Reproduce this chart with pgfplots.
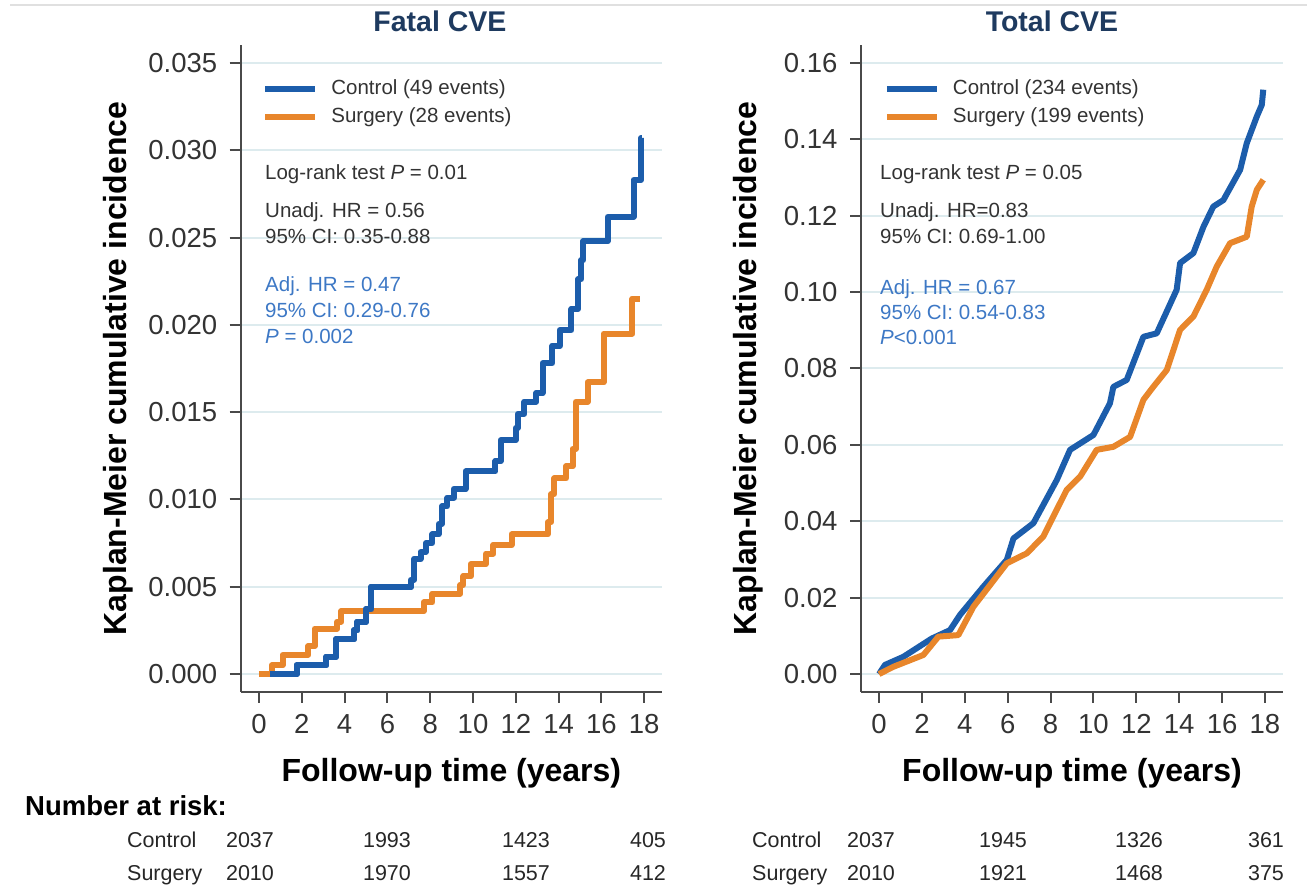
\documentclass[border=0pt]{standalone}
\usepackage{fontspec}
\setmainfont{Liberation Sans}
\usepackage{pgfplots}
\pgfplotsset{compat=1.18}
\definecolor{kmblue}{HTML}{1C5DAB}
\definecolor{kmorange}{HTML}{E8862B}
\definecolor{annblue}{HTML}{3D78C5}
\definecolor{titlecol}{HTML}{1E3A5F}
\definecolor{textdark}{HTML}{333333}
\definecolor{axisgray}{HTML}{4A4A4A}
\definecolor{gridcol}{HTML}{DDEBEE}
\pgfplotsset{kmaxis/.style={
  scale only axis, clip=false,
  axis x line*=bottom, axis y line*=left,
  axis line style={-, draw=axisgray, line width=2pt},
  tick align=outside, major tick length=11pt,
  every tick/.style={draw=axisgray, line width=2pt},
  xtick={0,2,4,6,8,10,12,14,16,18},
  ymajorgrids, major grid style={draw=gridcol, line width=2pt},
  tick label style={font=\fontsize{27.5}{30}\selectfont, text=textdark},
  xticklabel style={yshift=-8pt},
  /pgf/number format/assume math mode=true,
  scaled y ticks=false,
  label style={font=\bfseries\fontsize{32}{36}\selectfont, text=black},
  title style={font=\bfseries\fontsize{28.5}{32}\selectfont, text=titlecol, anchor=center},
  legend cell align=left,
  legend image code/.code={\draw[##1,line width=6pt] (0pt,0pt) -- (50pt,0pt); \path[draw=none] (0pt,0pt) -- (66pt,0pt);},
  legend style={draw=none, fill=none, inner sep=0pt, row sep=8pt,
    font=\fontsize{20.5}{24}\selectfont, text=textdark,
    nodes={inner sep=0pt, text height=15pt, text depth=5pt}},
  every axis plot/.append style={line width=6pt, line join=round},
}}
\begin{document}
\begin{tikzpicture}
\useasboundingbox (0pt,0pt) rectangle (1307pt,886pt);
\draw[black!12, line width=2pt] (10pt,881pt) -- (1307pt,881pt);

% ---------------- Fatal CVE ----------------
\begin{axis}[kmaxis,
  at={(240.7pt,194pt)}, anchor=south west, width=421.3pt, height=647pt,
  xmin=-0.855, xmax=18.83, ymin=-0.00103, ymax=0.03603,
  ytick={0,0.005,0.01,0.015,0.02,0.025,0.03,0.035},
  yticklabel style={xshift=-9pt, /pgf/number format/.cd, fixed, fixed zerofill, precision=3},
  title={Fatal CVE}, title style={at={(axis description cs:0.473,1.028)}},
  xlabel={Follow-up time (years)}, xlabel style={at={(axis description cs:0.5,-0.125)}, anchor=center},
  ylabel={Kaplan-Meier cumulative incidence}, ylabel style={at={(axis description cs:-0.291,0.5)}, anchor=center},
  legend style={at={(axis description cs:0.051,0.9474)}, anchor=north west},
]
\addplot[kmblue, const plot] coordinates {
(0.5,0) (1.76,0.0005) (3.15,0.001) (3.6,0.002) (4.45,0.0025) (4.6,0.003)
(5.0,0.0037) (5.25,0.005) (7.1,0.0054) (7.25,0.0066) (7.55,0.007) (7.8,0.0075)
(8.1,0.008) (8.4,0.0086) (8.55,0.0096) (8.8,0.0101) (9.1,0.0106) (9.65,0.0116)
(11.05,0.0122) (11.3,0.0134) (12.0,0.0141) (12.1,0.0149) (12.4,0.0156) (12.95,0.0161)
(13.25,0.0178) (13.7,0.0188) (14.05,0.0197) (14.6,0.0209) (14.9,0.0226) (15.05,0.0237)
(15.15,0.0248) (16.3,0.0262) (17.5,0.0283) (17.85,0.0307) (17.9,0.0307)};
\addlegendentry{Control (49 events)}
\addplot[kmorange, const plot] coordinates {
(0,0) (0.6,0.0005) (1.1,0.0011) (2.3,0.0016) (2.6,0.0026) (3.65,0.003) (3.85,0.0036)
(7.7,0.0041) (8.1,0.0046) (9.4,0.0051) (9.55,0.0056) (9.9,0.0063) (10.6,0.0069)
(10.95,0.0074) (11.8,0.008) (13.5,0.0087) (13.65,0.0103) (13.8,0.0112) (14.35,0.0119)
(14.65,0.0129) (14.8,0.0156) (15.35,0.0167) (16.1,0.0195) (17.45,0.0215) (17.8,0.0215)};
\addlegendentry{Surgery (28 events)}
% redraw the early part of control on top
\addplot[kmblue, const plot, forget plot] coordinates {
(0.5,0) (1.76,0.0005) (3.15,0.001) (3.6,0.002) (4.45,0.0025) (4.6,0.003)
(5.0,0.0037) (5.25,0.005) (7.1,0.0054)};
\end{axis}

% ---------------- Total CVE ----------------
\begin{axis}[kmaxis,
  at={(861pt,194pt)}, anchor=south west, width=422pt, height=647pt,
  xmin=-0.84, xmax=18.84, ymin=-0.0047, ymax=0.1647,
  ytick={0,0.02,0.04,0.06,0.08,0.1,0.12,0.14,0.16},
  yticklabel style={xshift=-9pt, /pgf/number format/.cd, fixed, fixed zerofill, precision=2},
  title={Total CVE}, title style={at={(axis description cs:0.4526,1.028)}},
  xlabel={Follow-up time (years)}, xlabel style={at={(axis description cs:0.5,-0.125)}, anchor=center},
  ylabel={Kaplan-Meier cumulative incidence}, ylabel style={at={(axis description cs:-0.268,0.5)}, anchor=center},
  legend style={at={(axis description cs:0.054,0.9474)}, anchor=north west},
]
\addplot[kmblue] coordinates {
(0,0) (0.28,0.0024) (1.13,0.0045) (2.46,0.0093) (3.31,0.0115) (3.78,0.0155)
(4.87,0.0229) (5.96,0.0299) (6.27,0.0355) (7.2,0.0395) (8.29,0.0508) (8.91,0.0587)
(10.0,0.0626) (10.77,0.0709) (10.93,0.0752) (11.55,0.077) (12.33,0.0883) (12.95,0.0892)
(13.88,0.1006) (14.04,0.1076) (14.66,0.1102) (15.13,0.1171) (15.59,0.1224) (16.06,0.1241)
(16.84,0.132) (17.15,0.139) (17.62,0.146) (17.85,0.149) (17.92,0.153)};
\addlegendentry{Control (234 events)}
\addplot[kmorange] coordinates {
(0,0) (0.67,0.0019) (2.07,0.005) (2.77,0.0098) (3.7,0.0102) (4.4,0.0176)
(5.96,0.029) (6.89,0.0316) (7.66,0.036) (8.75,0.0482) (9.38,0.0517) (10.15,0.0587)
(10.93,0.0595) (11.71,0.0621) (12.33,0.0718) (12.79,0.0752) (13.42,0.0796) (14.04,0.0901)
(14.66,0.0936) (15.28,0.1006) (15.75,0.1067) (16.37,0.1128) (17.15,0.1145) (17.38,0.1224)
(17.62,0.1268) (17.92,0.1294)};
\addlegendentry{Surgery (199 events)}
\end{axis}

% ---------------- annotations ----------------
\begin{scope}[every node/.style={anchor=base west, inner sep=0pt, font=\fontsize{20.5}{24}\selectfont}]
\node[text=textdark] at (265pt,706.7pt) {Log-rank test \textit{P} = 0.01};
\node[text=textdark] at (265pt,668.7pt) {Unadj. HR = 0.56};
\node[text=textdark] at (265pt,642.7pt) {95\% CI: 0.35-0.88};
\node[text=annblue] at (265pt,594.7pt) {Adj. HR = 0.47};
\node[text=annblue] at (265pt,568.7pt) {95\% CI: 0.29-0.76};
\node[text=annblue] at (265pt,542.7pt) {\textit{P} = 0.002};
\node[text=textdark] at (880pt,706.7pt) {Log-rank test \textit{P} = 0.05};
\node[text=textdark] at (880pt,668.7pt) {Unadj. HR=0.83};
\node[text=textdark] at (880pt,642.7pt) {95\% CI: 0.69-1.00};
\node[text=annblue] at (880pt,591.7pt) {Adj. HR = 0.67};
\node[text=annblue] at (880pt,566.7pt) {95\% CI: 0.54-0.83};
\node[text=annblue] at (880pt,541.7pt) {\textit{P}<0.001};
\end{scope}

% ---------------- number at risk ----------------
\node[anchor=base west, inner sep=0pt, font=\bfseries\fontsize{27.5}{30}\selectfont] at (25pt,70.7pt) {Number at risk:};
\begin{scope}[every node/.style={anchor=base, inner sep=0pt, font=\fontsize{21.5}{24}\selectfont, text=black!85}]
\node[anchor=base west] at (127pt,38.5pt) {Control};
\node[anchor=base west] at (127pt,5.5pt) {Surgery};
\node at (250pt,38.5pt) {2037}; \node at (387pt,38.5pt) {1993}; \node at (526pt,38.5pt) {1423}; \node at (648pt,38.5pt) {405};
\node at (250pt,5.5pt) {2010}; \node at (387pt,5.5pt) {1970}; \node at (526pt,5.5pt) {1557}; \node at (648pt,5.5pt) {412};
\node[anchor=base west] at (752pt,38.5pt) {Control};
\node[anchor=base west] at (752pt,5.5pt) {Surgery};
\node at (871pt,38.5pt) {2037}; \node at (1003pt,38.5pt) {1945}; \node at (1139pt,38.5pt) {1326}; \node at (1266pt,38.5pt) {361};
\node at (871pt,5.5pt) {2010}; \node at (1003pt,5.5pt) {1921}; \node at (1139pt,5.5pt) {1468}; \node at (1266pt,5.5pt) {375};
\end{scope}
\end{tikzpicture}
\end{document}
